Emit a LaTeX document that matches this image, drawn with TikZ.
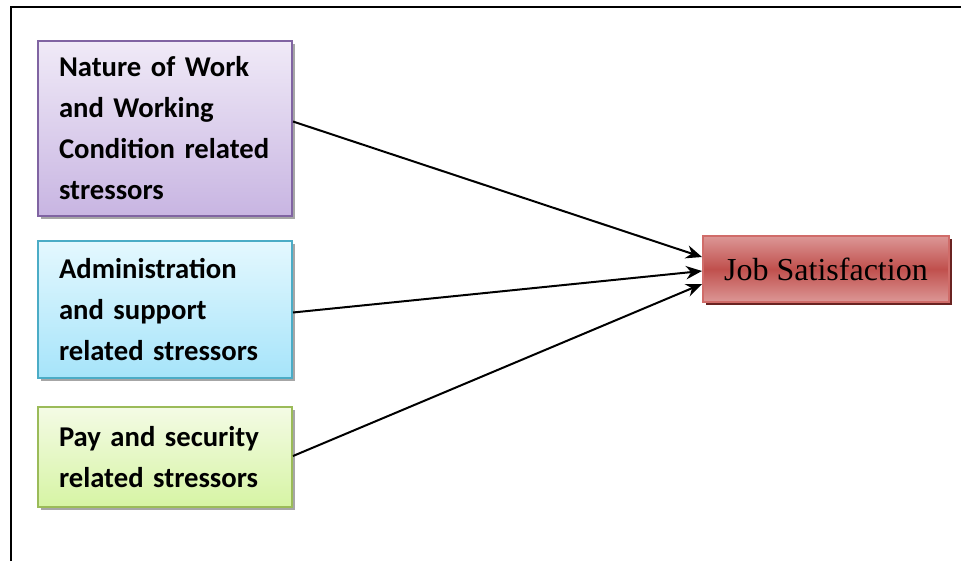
\documentclass[tikz,border=0pt]{standalone}
\usepackage{fontspec}
\setmainfont{Liberation Serif}
\newfontfamily\boxfont[BoldFont={Carlito Bold}]{Carlito}
\usetikzlibrary{arrows.meta,calc,shadows}

\definecolor{purpleedge}{HTML}{8064A2}
\definecolor{purpletop}{HTML}{F0EAF7}
\definecolor{purplebot}{HTML}{C8B5E2}
\definecolor{blueedge}{HTML}{4BACC6}
\definecolor{bluetop}{HTML}{E4F8FE}
\definecolor{bluebot}{HTML}{A6E4FA}
\definecolor{greenedge}{HTML}{9BBB59}
\definecolor{greentop}{HTML}{F4FBE5}
\definecolor{greenbot}{HTML}{D6F4A4}
\definecolor{rededge}{HTML}{D06C69}
\definecolor{redlight}{HTML}{DC9796}
\definecolor{redmid}{HTML}{C0504D}
\definecolor{redshadow}{HTML}{6A2321}
\definecolor{greyshadow}{HTML}{A6A6A6}

\tikzset{
  stressor/.style={rectangle, draw, line width=1.5pt, anchor=north west,
    minimum width=190.5pt, text width=159pt, inner xsep=15.75pt, inner ysep=0pt,
    align=left, font=\boxfont\bfseries\fontsize{21.5}{30.75}\selectfont,
    drop shadow={shadow xshift=2.5pt, shadow yshift=-2.5pt, fill=greyshadow, opacity=1}},
  outcome/.style={rectangle, draw=rededge, line width=1.5pt, anchor=north west,
    minimum width=184.5pt, minimum height=49.5pt, inner sep=0pt,
    top color=redlight, bottom color=redlight, middle color=redmid,
    font=\fontsize{24}{28}\selectfont,
    drop shadow={shadow xshift=2.5pt, shadow yshift=-2.5pt, fill=redshadow, opacity=1}},
  link/.style={line width=1.5pt, -{Stealth[length=12pt,width=10pt]}}
}

\begin{document}
\begin{tikzpicture}[x=0.75pt,y=-0.75pt]
  % page area and frame
  \fill[white] (0,0) rectangle (961,561);
  \useasboundingbox (0,0) rectangle (961,561);
  \draw[line width=1.6pt] (11,561) -- (11,7) -- (961,7);

  % stressor boxes
  \node[stressor, draw=purpleedge, top color=purpletop, bottom color=purplebot,
        minimum height=131.25pt] (nature) at (37,40)
        {\mbox{Nature of Work}\\\mbox{and Working}\\\mbox{Condition related}\\stressors};
  \node[stressor, draw=blueedge, top color=bluetop, bottom color=bluebot,
        minimum height=102.75pt] (admin) at (37,240)
        {Administration\\\mbox{and support}\\\mbox{related stressors}};
  \node[stressor, draw=greenedge, top color=greentop, bottom color=greenbot,
        minimum height=75pt] (pay) at (37,406)
        {\mbox{Pay and security}\\\mbox{related stressors}};

  % outcome box
  \node[outcome] (job) at (702,235) {Job Satisfaction};

  % connectors
  \draw[link] ($(nature.east)+(0,-7)$) -- ($(job.west)+(0,-12)$);
  \draw[link] ($(admin.east)+(0,3)$) -- ($(job.west)+(0,2)$);
  \draw[link] ($(pay.east)+(0,-1)$) -- ($(job.west)+(0,15)$);
\end{tikzpicture}
\end{document}
